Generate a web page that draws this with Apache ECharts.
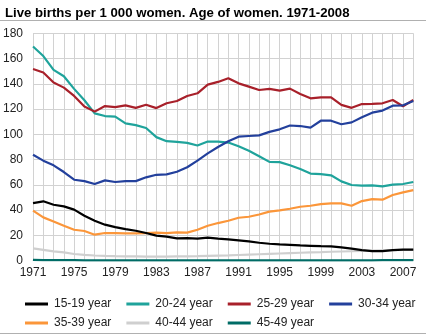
<!DOCTYPE html>
<html>
<head>
<meta charset="utf-8">
<script src="https://cdn.jsdelivr.net/npm/echarts@6/dist/echarts.min.js"></script>
<style>
html,body{margin:0;padding:0;background:#fff;}
#chart{width:426px;height:334px;}
</style>
</head>
<body>
<div id="chart"></div>
<script>
var titleText = 'Live births per 1 000 women. Age of women. 1971-2008';
var years = [];
for (var y = 1971; y <= 2008; y++) years.push(String(y));
var seriesNames = ['15-19 year','20-24 year','25-29 year','30-34 year','35-39 year','40-44 year','45-49 year'];

var age1519 = [45.6,47.0,44.3,43.0,40.4,35.6,31.7,28.5,26.6,25.0,23.7,21.9,19.8,19.0,17.7,17.9,17.4,18.2,17.4,16.9,16.1,15.3,14.2,13.4,12.9,12.6,12.1,11.8,11.5,11.3,10.5,9.5,8.4,7.6,7.6,8.4,8.7,8.7];
var age2024 = [169.6,162.0,151.0,146.0,136.0,127.0,116.6,114.5,114.0,108.7,107.3,105.0,97.8,94.6,94.0,93.3,91.2,94.3,94.2,93.5,90.6,87.0,82.7,78.2,78.0,75.5,72.6,69.0,68.6,67.6,62.8,59.9,59.4,59.6,58.8,60.2,60.7,62.3];
var age2529 = [151.8,149.0,141.0,137.0,130.4,122.0,118.0,122.4,121.6,123.0,121.0,123.5,120.8,124.6,126.4,130.4,132.5,139.4,141.5,144.4,140.4,137.8,135.1,136.0,134.6,136.2,132.0,128.5,129.3,129.3,123.3,121.0,124.0,124.2,124.6,127.2,122.3,127.2];
var age3034 = [83.9,79.2,75.5,70.2,64.1,63.0,60.7,63.6,62.3,63.0,63.0,66.0,68.0,68.3,70.4,74.0,79.2,85.0,90.0,94.5,98.2,98.7,99.2,102.0,104.0,107.0,106.6,105.3,110.8,110.8,108.0,109.5,113.5,117.2,118.8,122.7,123.0,126.4];
var age3539 = [39.6,34.3,31.1,27.7,24.5,23.5,20.6,21.9,21.9,21.6,21.6,21.9,22.2,21.9,22.4,22.2,24.5,27.7,29.8,31.6,34.0,34.8,36.6,38.8,39.8,41.1,42.7,43.5,44.8,45.4,45.4,43.5,47.2,48.8,48.3,52.0,54.1,55.9];
var age4044 = [9.8,8.6,7.4,6.6,5.3,4.6,4.1,3.8,3.6,3.5,3.4,3.3,3.3,3.3,3.4,3.5,3.6,3.8,4.0,4.2,4.5,4.8,5.1,5.4,5.7,6.0,6.3,6.6,6.8,7.1,7.3,7.5,7.7,7.9,8.1,8.3,8.5,8.6];
var age4549 = [0.6,0.5,0.5,0.4,0.4,0.3,0.3,0.3,0.3,0.3,0.3,0.3,0.3,0.3,0.3,0.3,0.3,0.3,0.3,0.3,0.3,0.3,0.3,0.3,0.3,0.3,0.3,0.3,0.3,0.3,0.3,0.3,0.3,0.3,0.4,0.4,0.4,0.4];
var yTicks = {min: 0, max: 180, interval: 20};

var allData = [age1519, age2024, age2529, age3034, age3539, age4044, age4549];
var colors = ['#000000','#1fa39b','#a8202a','#23409c','#fb963a','#cfcfcf','#006c66'];
var zs = [3,2,2,2,2,1,2];

var font = 'Liberation Sans, Arial, sans-serif';
var chart = echarts.init(document.getElementById('chart'), null, {renderer:'canvas'});
var series = seriesNames.map(function(n, i){
  return {
    name: n, type: 'line', data: allData[i], symbol: 'none', z: zs[i],
    lineStyle: {width: 2.2, color: colors[i]}, itemStyle: {color: colors[i]},
    animation: false
  };
});
function legendRow(names, top){
  return {
    data: names, left: 25, top: top,
    icon: 'rect', itemWidth: 23, itemHeight: 3, itemGap: 15,
    textStyle: {fontFamily: font, fontSize: 12, color: '#222', padding: [0,0,0,1]},
    padding: 0
  };
}
chart.setOption({
  animation: false,
  textStyle: {fontFamily: font},
  title: {text: titleText, left: 0, top: 2, textStyle: {fontFamily: font, fontSize: 13.2, fontWeight: 'bold', color: '#000'}},
  graphic: [
    {type:'line', shape:{x1:0,y1:20.5,x2:426,y2:20.5}, style:{stroke:'#b0b0b0', lineWidth:1}},
    {type:'line', shape:{x1:0,y1:333.5,x2:426,y2:333.5}, style:{stroke:'#b0b0b0', lineWidth:1}}
  ],
  grid: {left: 31, right: 12.7, top: 33.3, bottom: 73.3, containLabel: false},
  legend: [legendRow(seriesNames.slice(0,4), 298), legendRow(seriesNames.slice(4), 317)],
  xAxis: {
    type: 'category', data: years, boundaryGap: false,
    axisLine: {show: true, lineStyle: {color: '#c8c8c8'}},
    axisTick: {show: false},
    axisLabel: {interval: 3, fontFamily: font, fontSize: 12, color: '#222', margin: 6},
    splitLine: {show: true, interval: 0, lineStyle: {color: '#d2d2d2', width: 1}}
  },
  yAxis: {
    type: 'value', min: yTicks.min, max: yTicks.max, interval: yTicks.interval,
    axisLine: {show: false}, axisTick: {show: false},
    axisLabel: {fontFamily: font, fontSize: 12, color: '#222', margin: 10},
    splitLine: {show: true, lineStyle: {color: '#d2d2d2', width: 1}}
  },
  series: series
});
</script>
</body>
</html>
